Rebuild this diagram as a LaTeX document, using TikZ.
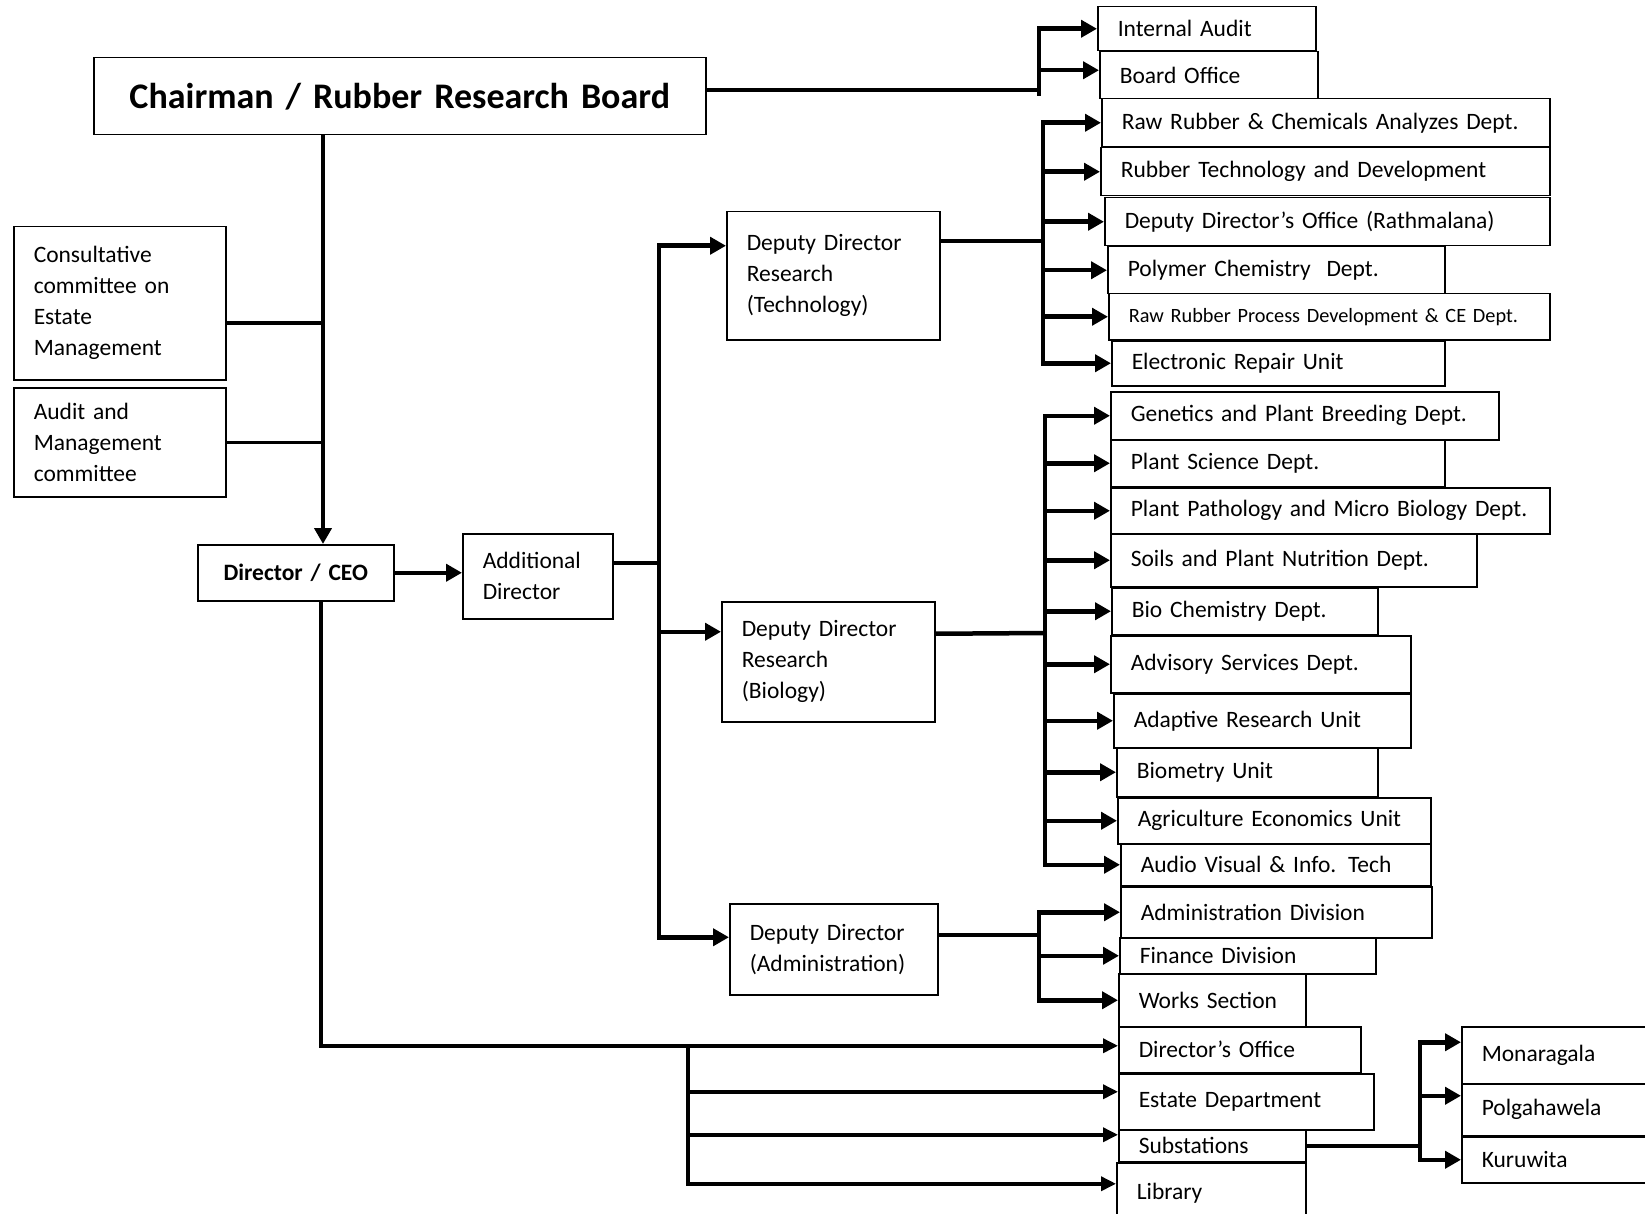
\documentclass[tikz,border=0pt]{standalone}
\usepackage{fontspec}
\setmainfont{Carlito}
\usetikzlibrary{arrows.meta}

\tikzset{
  unit/.style={draw, line width=1.5pt, anchor=north west, align=left,
    inner xsep=20pt, inner ysep=0pt, font=\fontsize{23.5}{31}\selectfont},
  bus/.style={line width=4.5pt},
  link/.style={line width=3.5pt},
  arr/.style={bus, -{Triangle[length=16pt,width=17pt]}},
  arr2/.style={link, -{Triangle[length=15pt,width=14pt]}}
}

\begin{document}
\begin{tikzpicture}[x=1pt, y=-1pt]
      \useasboundingbox (0,0) rectangle (1645,1214);
      %%%%%%%%%%%%%%%%%%%%%%%%%%%%%%%%%%%%%%%%%%%%%%%
      \node[unit, align=center, text width=572pt, minimum height=77pt, font=\fontsize{36}{44}\selectfont\bfseries] at (93,57) (chair) {Chairman / Rubber Research Board};
      \node[unit, text width=178pt, minimum height=44pt] at (1097,6)  (top1) {Internal Audit};
      \node[unit, text width=178pt, minimum height=47pt] at (1099,51) (top2) {Board Office};
      \coordinate (topbus) at (1039,96);
      \draw[bus] ([yshift=6pt]chair.east) -- ([yshift=6pt]chair.east -| topbus);
      \draw[arr] (topbus) |- (top1.west);
      \draw[arr] (topbus) |- ([yshift=5pt]top2.west);
      %%%%%%%%%%%%%%%%%%%%%%%%%%%%%%%%%%%%%%%%%%%%%%%
      \node[unit, text width=172pt, minimum height=153pt] at (13,226) (com1) {Consultative\\committee on\\Estate\\Management};
      \node[unit, text width=172pt, minimum height=109pt] at (13,387) (com2) {Audit and\\Management\\committee};
      \node[unit, align=center, text width=156pt, minimum height=56pt, font=\fontsize{23.5}{31}\selectfont\bfseries] at (197,544) (ceo) {Director / CEO};
      \coordinate (cv) at (323,323);
      \draw[arr] (chair.south -| cv) -- (ceo.north -| cv);
      \draw[link] (com1.east |- cv) -- (cv);
      \draw[link] (com2.east) -- (com2.east -| cv);
      %%%%%%%%%%%%%%%%%%%%%%%%%%%%%%%%%%%%%%%%%%%%%%%
      \node[unit, text width=110pt, minimum height=85pt]  at (462,533) (add) {Additional\\Director};
      \node[unit, text width=173pt, minimum height=128pt] at (726,211) (ddt) {Deputy Director\\Research\\(Technology)};
      \node[unit, text width=173pt, minimum height=120pt] at (721,601) (ddb) {Deputy Director\\Research\\(Biology)};
      \node[unit, text width=168pt, minimum height=91pt]  at (729,903) (dda) {Deputy Director\\(Administration)};
      \draw[arr] (ceo.east) -- (add.west |- ceo.east);
      \coordinate (addbus) at (659,563);
      \draw[bus] (add.east |- addbus) -- (addbus);
      \draw[arr] (addbus) |- ([yshift=30pt]ddt.west);
      \draw[arr] (addbus) |- ([yshift=30pt]ddb.west);
      \draw[arr] (addbus) |- ([yshift=12pt]dda.west);
      %%%%%%%%%%%%%%%%%%%%%%%%%%%%%%%%%%%%%%%%%%%%%%%
      \node[unit, text width=408pt, minimum height=48pt] at (1101,98)  (t1) {Raw Rubber \& Chemicals Analyzes Dept.};
      \node[unit, text width=409pt, minimum height=48pt] at (1100,147) (t2) {Rubber Technology and Development};
      \node[unit, text width=405pt, minimum height=48pt] at (1104,197) (t3) {Deputy Director’s Office (Rathmalana)};
      \node[unit, text width=297pt, minimum height=47pt] at (1107,246) (t4) {Polymer Chemistry\ \ Dept.};
      \node[unit, text width=401pt, minimum height=46pt, font=\fontsize{20.3}{27}\selectfont] at (1108,293) (t5) {Raw Rubber Process Development \& CE Dept.};
      \node[unit, text width=293pt, minimum height=45pt] at (1111,340) (t6) {Electronic Repair Unit};
      \coordinate (techbus) at (1043,241);
      \draw[bus] (ddt.east |- techbus) -- (techbus);
      \draw[arr] (techbus) |- (t1.west);
      \draw[arr] (techbus) |- (t2.west);
      \draw[arr] (techbus) |- (t3.west);
      \draw[arr] (techbus) |- (t4.west);
      \draw[arr] (techbus) |- (t5.west);
      \draw[arr] (techbus) |- (t6.west);
      %%%%%%%%%%%%%%%%%%%%%%%%%%%%%%%%%%%%%%%%%%%%%%%
      \node[unit, text width=348pt, minimum height=48pt] at (1110,391) (b1)  {Genetics and Plant Breeding Dept.};
      \node[unit, text width=294pt, minimum height=47pt] at (1110,439) (b2)  {Plant Science Dept.};
      \node[unit, text width=399pt, minimum height=46pt] at (1110,487) (b3)  {Plant Pathology and Micro Biology Dept.};
      \node[unit, text width=326pt, minimum height=53pt] at (1110,533) (b4)  {Soils and Plant Nutrition Dept.};
      \node[unit, text width=226pt, minimum height=47pt] at (1111,587) (b5)  {Bio Chemistry Dept.};
      \node[unit, text width=260pt, minimum height=57pt] at (1110,635) (b6)  {Advisory Services Dept.};
      \node[unit, text width=257pt, minimum height=54pt] at (1113,693) (b7)  {Adaptive Research Unit};
      \node[unit, text width=221pt, minimum height=49pt] at (1116,747) (b8)  {Biometry Unit};
      \node[unit, text width=273pt, minimum height=46pt] at (1117,797) (b9)  {Agriculture Economics Unit};
      \node[unit, text width=270pt, minimum height=42pt] at (1120,843) (b10) {Audio Visual \& Info. Tech};
      \coordinate (biobus) at (1045,633);
      \draw[bus] ([yshift=28pt]ddb.east) -- (biobus);
      \draw[arr] (biobus) |- (b1.west);
      \draw[arr] (biobus) |- (b2.west);
      \draw[arr] (biobus) |- (b3.west);
      \draw[arr] (biobus) |- (b4.west);
      \draw[arr] (biobus) |- (b5.west);
      \draw[arr] (biobus) |- (b6.west);
      \draw[arr] (biobus) |- (b7.west);
      \draw[arr] (biobus) |- (b8.west);
      \draw[arr] (biobus) |- (b9.west);
      \draw[arr] (biobus) |- (b10.west);
      %%%%%%%%%%%%%%%%%%%%%%%%%%%%%%%%%%%%%%%%%%%%%%%
      \node[unit, text width=271pt, minimum height=51pt] at (1120,886) (a1) {Administration Division};
      \node[unit, text width=216pt, minimum height=36pt] at (1119,937) (a2) {Finance Division};
      \node[unit, text width=147pt, minimum height=53pt] at (1118,973) (a3) {Works Section};
      \coordinate (admbus) at (1039,935);
      \draw[bus] (dda.east |- admbus) -- (admbus);
      \draw[arr] (admbus) |- (a1.west);
      \draw[arr] (admbus) |- (a2.west);
      \draw[arr] (admbus) |- (a3.west);
      %%%%%%%%%%%%%%%%%%%%%%%%%%%%%%%%%%%%%%%%%%%%%%%
      \node[unit, text width=202pt, minimum height=46pt] at (1118,1026) (c1) {Director’s Office};
      \node[unit, text width=215pt, minimum height=56pt] at (1118,1073) (c2) {Estate Department};
      \node[unit, text width=147pt, minimum height=32pt] at (1118,1129) (c3) {Substations};
      \node[unit, text width=149pt, minimum height=60pt] at (1116,1162) (c4) {Library};
      \coordinate (cbus) at (321,1045);
      \coordinate (lbus) at (688,1045);
      \draw[arr2] (ceo.south -| cbus) |- ([yshift=4pt]c1.west);
      \draw[arr2] (lbus) |- ([yshift=10pt]c2.west);
      \draw[arr2] (lbus) |- ([yshift=11pt]c3.west);
      \draw[arr2] (lbus) |- ([yshift=9pt]c4.west);
      %%%%%%%%%%%%%%%%%%%%%%%%%%%%%%%%%%%%%%%%%%%%%%%
      \node[unit, text width=160pt, minimum height=57pt] at (1461,1026) (s1) {Monaragala};
      \node[unit, text width=160pt, minimum height=52pt] at (1461,1083) (s2) {Polgahawela};
      \node[unit, text width=160pt, minimum height=46pt] at (1461,1136) (s3) {Kuruwita};
      \coordinate (sbus) at (1420,1145);
      \draw[bus] (c3.east) -- (c3.east -| sbus);
      \draw[arr] (sbus) |- ([yshift=13pt]s1.west);
      \draw[arr] (sbus) |- ([yshift=14pt]s2.west);
      \draw[arr] (sbus) |- (s3.west);
      %%%%%%%%%%%%%%%%%%%%%%%%%%%%%%%%%%%%%%%%%%%%%%%
\end{tikzpicture}
\end{document}
